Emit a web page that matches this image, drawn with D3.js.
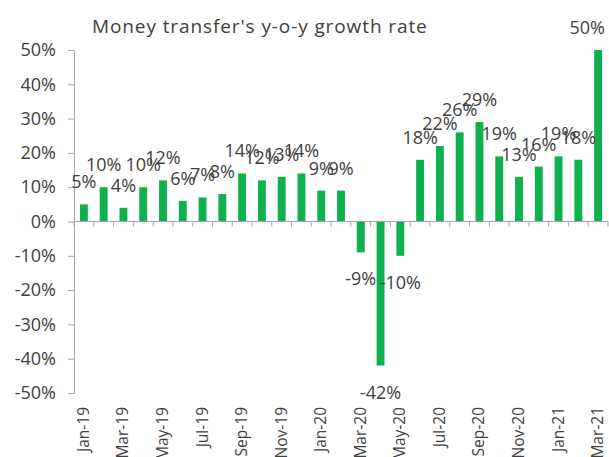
<!DOCTYPE html>
<html>
<head>
<meta charset="utf-8">
<script src="https://cdn.jsdelivr.net/npm/d3@7"></script>
<style>
	body { margin: 0; background: #fff; }
	text { font-family: "Open Sans", sans-serif; fill: #404040; }
</style>
</head>
<body>
<div id="chart"></div>
<script>
// monthly y-o-y growth, Jan-19 .. Mar-21
var months = ['Jan-19', 'Feb-19', 'Mar-19', 'Apr-19', 'May-19', 'Jun-19', 'Jul-19', 'Aug-19', 'Sep-19',
	'Oct-19', 'Nov-19', 'Dec-19', 'Jan-20', 'Feb-20', 'Mar-20', 'Apr-20', 'May-20', 'Jun-20', 'Jul-20',
	'Aug-20', 'Sep-20', 'Oct-20', 'Nov-20', 'Dec-20', 'Jan-21', 'Feb-21', 'Mar-21']
var growth = [5, 10, 4, 10, 12, 6, 7, 8, 14, 12, 13, 14, 9, 9, -9, -42, -10, 18, 22, 26, 29, 19, 13, 16, 19, 18, 50]
var yTicks = [50, 40, 30, 20, 10, 0, -10, -20, -30, -40, -50]
var title = "Money transfer's y-o-y growth rate"

var width = 609
var height = 457
var plotLeft = 74
var plotRight = 608
var plotTop = 50
var plotBottom = 393

var svg = d3.select('#chart').append('svg')
	.attr('width', width)
	.attr('height', height)

var x = d3.scaleBand()
	.domain(months)
	.range([plotLeft, plotRight])
	.paddingInner(0.6)
	.paddingOuter(0.3)

var y = d3.scaleLinear()
	.domain([-50, 50])
	.range([plotBottom, plotTop])

// title
svg.append('text')
	.attr('x', 92)
	.attr('y', 33)
	.style('font-size', '19px')
	.style('letter-spacing', '0.9px')
	.text(title)

// y axis
var yAxis = svg.append('g')
	.attr('transform', 'translate(' + plotLeft + ',0)')
	.call(d3.axisLeft(y).tickValues(yTicks).tickSize(6).tickPadding(12)
		.tickFormat(function(d) { return d + '%' }))
yAxis.select('.domain').attr('stroke', '#a6a6a6')
yAxis.selectAll('.tick line').attr('stroke', '#a6a6a6')
yAxis.selectAll('.tick text')
	.style('font-size', '18px')
	.attr('fill', '#404040')
	.attr('font-family', null)

// bars
var bars = svg.append('g')
bars.selectAll('rect')
	.data(growth)
	.enter().append('rect')
	.attr('x', function(d, i) { return x(months[i]) })
	.attr('width', x.bandwidth())
	.attr('y', function(d) { return y(Math.max(0, d)) })
	.attr('height', function(d) { return Math.abs(y(d) - y(0)) })
	.attr('fill', '#0fb14f')

// zero line with ticks between categories
var step = x.step()
var xStart = x(months[0]) - x.paddingInner() * step / 2
svg.append('line')
	.attr('x1', plotLeft).attr('x2', plotRight)
	.attr('y1', y(0)).attr('y2', y(0))
	.attr('stroke', '#a6a6a6')
svg.append('g').selectAll('line')
	.data(d3.range(months.length + 1))
	.enter().append('line')
	.attr('x1', function(k) { return xStart + k * step })
	.attr('x2', function(k) { return xStart + k * step })
	.attr('y1', y(0))
	.attr('y2', y(0) + 5)
	.attr('stroke', '#a6a6a6')

// month labels (every other one)
svg.append('g').selectAll('text')
	.data(months.filter(function(m, i) { return i % 2 === 0 }))
	.enter().append('text')
	.attr('transform', function(m) {
		return 'translate(' + (x(m) + x.bandwidth() / 2 + 5) + ',407) rotate(-90)'
	})
	.attr('text-anchor', 'end')
	.style('font-size', '15.5px')
	.text(function(m) { return m })

// value labels, kept inside the picture at the right edge
svg.append('g').selectAll('text')
	.data(growth)
	.enter().append('text')
	.attr('y', function(d) { return d >= 0 ? y(d) - 16 : y(d) + 33 })
	.attr('text-anchor', 'middle')
	.style('font-size', '18px')
	.text(function(d) { return d + '%' })
	.attr('x', function(d, i) {
		var cx = x(months[i]) + x.bandwidth() / 2
		var half = this.getComputedTextLength() / 2
		return Math.min(cx, width - 4 - half)
	})
</script>
</body>
</html>
